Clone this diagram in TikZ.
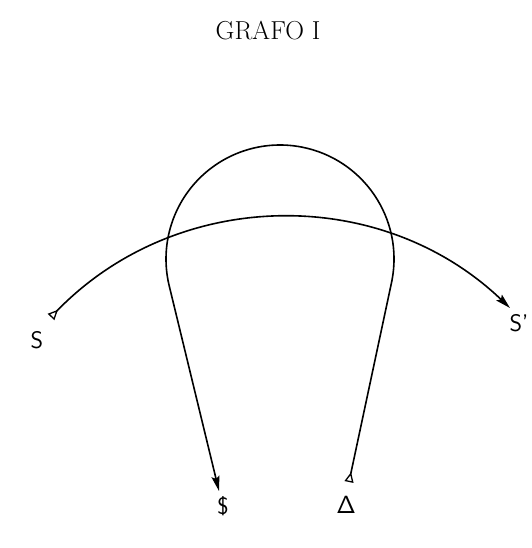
\documentclass[tikz,border=0pt]{standalone}
\usetikzlibrary{arrows.meta}

\begin{document}
\begin{tikzpicture}[x=1pt,y=1pt,line width=1.6pt,
  flecha/.style={{Triangle[open,reversed,length=10pt,width=9pt,line width=1.3pt]}-{Stealth[length=15pt,width=8pt,inset=2.5pt]}},
  etiqueta/.style={font=\sffamily\fontsize{24}{28}\selectfont,inner sep=0pt}]

\useasboundingbox (0,0) rectangle (531,548);

\node[font=\fontsize{26}{30}\selectfont] (titulo) at (268,517) {GRAFO I};

\node[etiqueta] (S) at (37,208) {S};
\node[etiqueta] (Sp) at (519,225) {S'};
\node[etiqueta] (peso) at (223,42) {\$};
\node[etiqueta] (delta) at (346,43) {$\mathsf{\Delta}$};

\coordinate (stail) at (51,231);
\coordinate (stip) at (510,240);
\coordinate (dtail) at (349,66);
\coordinate (dtip) at (219,57);
\coordinate (centro) at (280,289);

% arco de S a S'
\draw[flecha] (stail) to[bend left=44.8] (stip);

% lazo de Delta a $
\draw[flecha] (dtail) -- ([shift={(-11:114)}]centro)
  arc[start angle=-11,end angle=193,radius=114] -- (dtip);

\end{tikzpicture}
\end{document}
